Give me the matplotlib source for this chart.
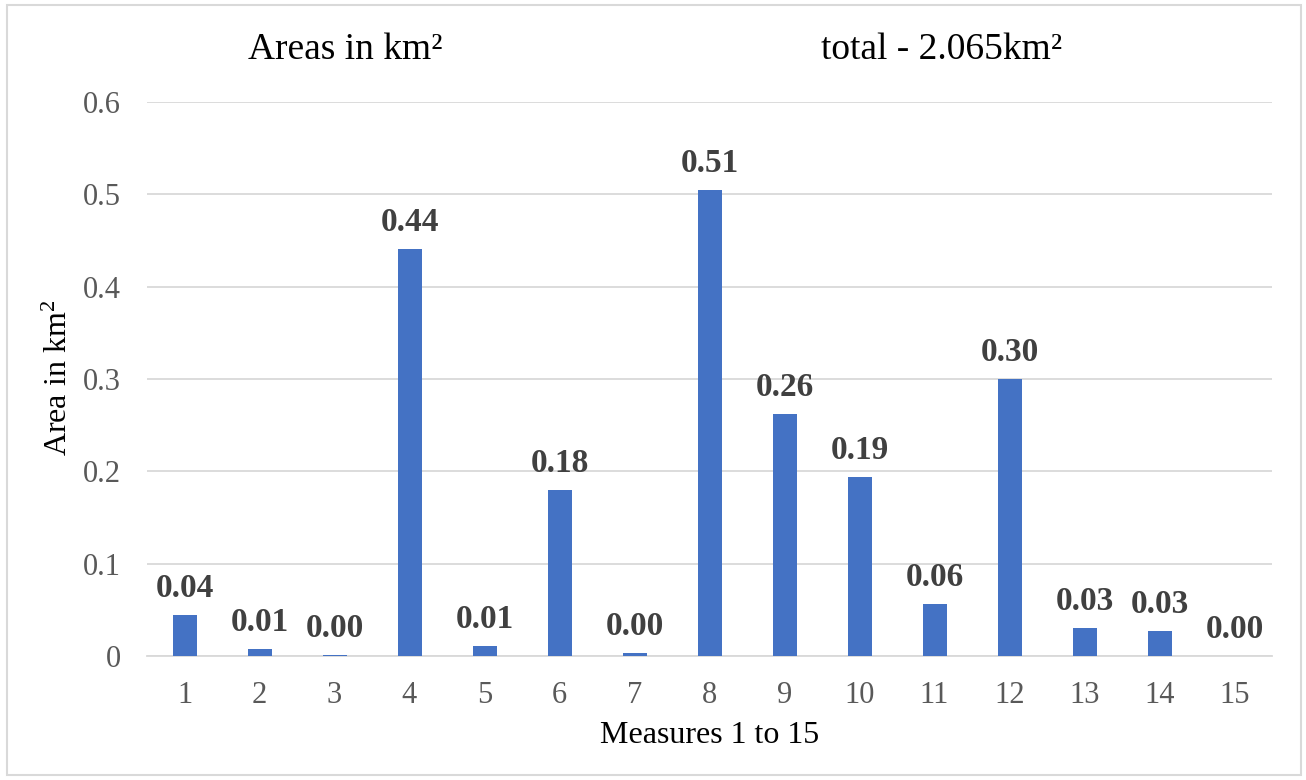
import matplotlib
matplotlib.use("Agg")
import matplotlib.pyplot as plt
from matplotlib.patches import Rectangle

measures = [str(i) for i in range(1, 16)]
areas = [0.044, 0.0075, 0.0008, 0.441, 0.011, 0.180, 0.003, 0.505,
         0.262, 0.194, 0.056, 0.300, 0.030, 0.027, 0.000]
yticks = [0, 0.1, 0.2, 0.3, 0.4, 0.5, 0.6]
ytick_labels = ["0", "0.1", "0.2", "0.3", "0.4", "0.5", "0.6"]

plt.rcParams['font.family'] = ['Liberation Serif', 'DejaVu Serif']
plt.rcParams['mathtext.fontset'] = 'custom'
plt.rcParams['mathtext.rm'] = 'Liberation Serif'
plt.rcParams['mathtext.it'] = 'Liberation Serif'

fig = plt.figure(figsize=(13.06, 7.80), dpi=100)
ax = fig.add_axes([147/1306, 1-656/780, (1272-147)/1306, (656-102)/780])

x = list(range(len(measures)))
bars = ax.bar(x, areas, width=0.32, color='#4472C4', zorder=3)

for xi, v in zip(x, areas):
    ax.annotate(f"{v:.2f}", (xi, v), xytext=(0, 8), textcoords='offset points',
                ha='center', va='bottom', fontsize=24, fontweight='bold', color='#404040')

ax.set_xlim(-0.5, len(measures) - 0.5)
ax.set_ylim(0, 0.6)
ax.set_yticks(yticks)
ax.set_yticklabels(ytick_labels)
ax.set_xticks(x)
ax.set_xticklabels(measures)
ax.tick_params(axis='both', length=0, labelsize=22, colors='#595959')
ax.tick_params(axis='x', pad=18)
ax.tick_params(axis='y', pad=19)
ax.grid(axis='y', color='#D9D9D9', linewidth=1.3, zorder=0)
for s in ['top', 'right', 'left']:
    ax.spines[s].set_visible(False)
ax.spines['bottom'].set_color('#D9D9D9')
ax.spines['bottom'].set_linewidth(1.3)

ax.set_xlabel("Measures 1 to 15", fontsize=23, color='black', labelpad=8)
ax.set_ylabel("Area in km$^\\mathrm{2}$", fontsize=23, color='black')
ax.yaxis.set_label_coords(-(147-74)/1125, (656-378)/554)

fig.text(345/1306, 1-50/780, "Areas in km²", fontsize=27, ha='center', va='center', color='black')
fig.text(942/1306, 1-50/780, "total - 2.065km²", fontsize=27, ha='center', va='center', color='black')

fig.patches.append(Rectangle((7/1306, 5/780), 1294/1306, 770/780, transform=fig.transFigure,
                             fill=False, edgecolor='#D9D9D9', linewidth=1.5))

fig.savefig("out.png", dpi=100)
